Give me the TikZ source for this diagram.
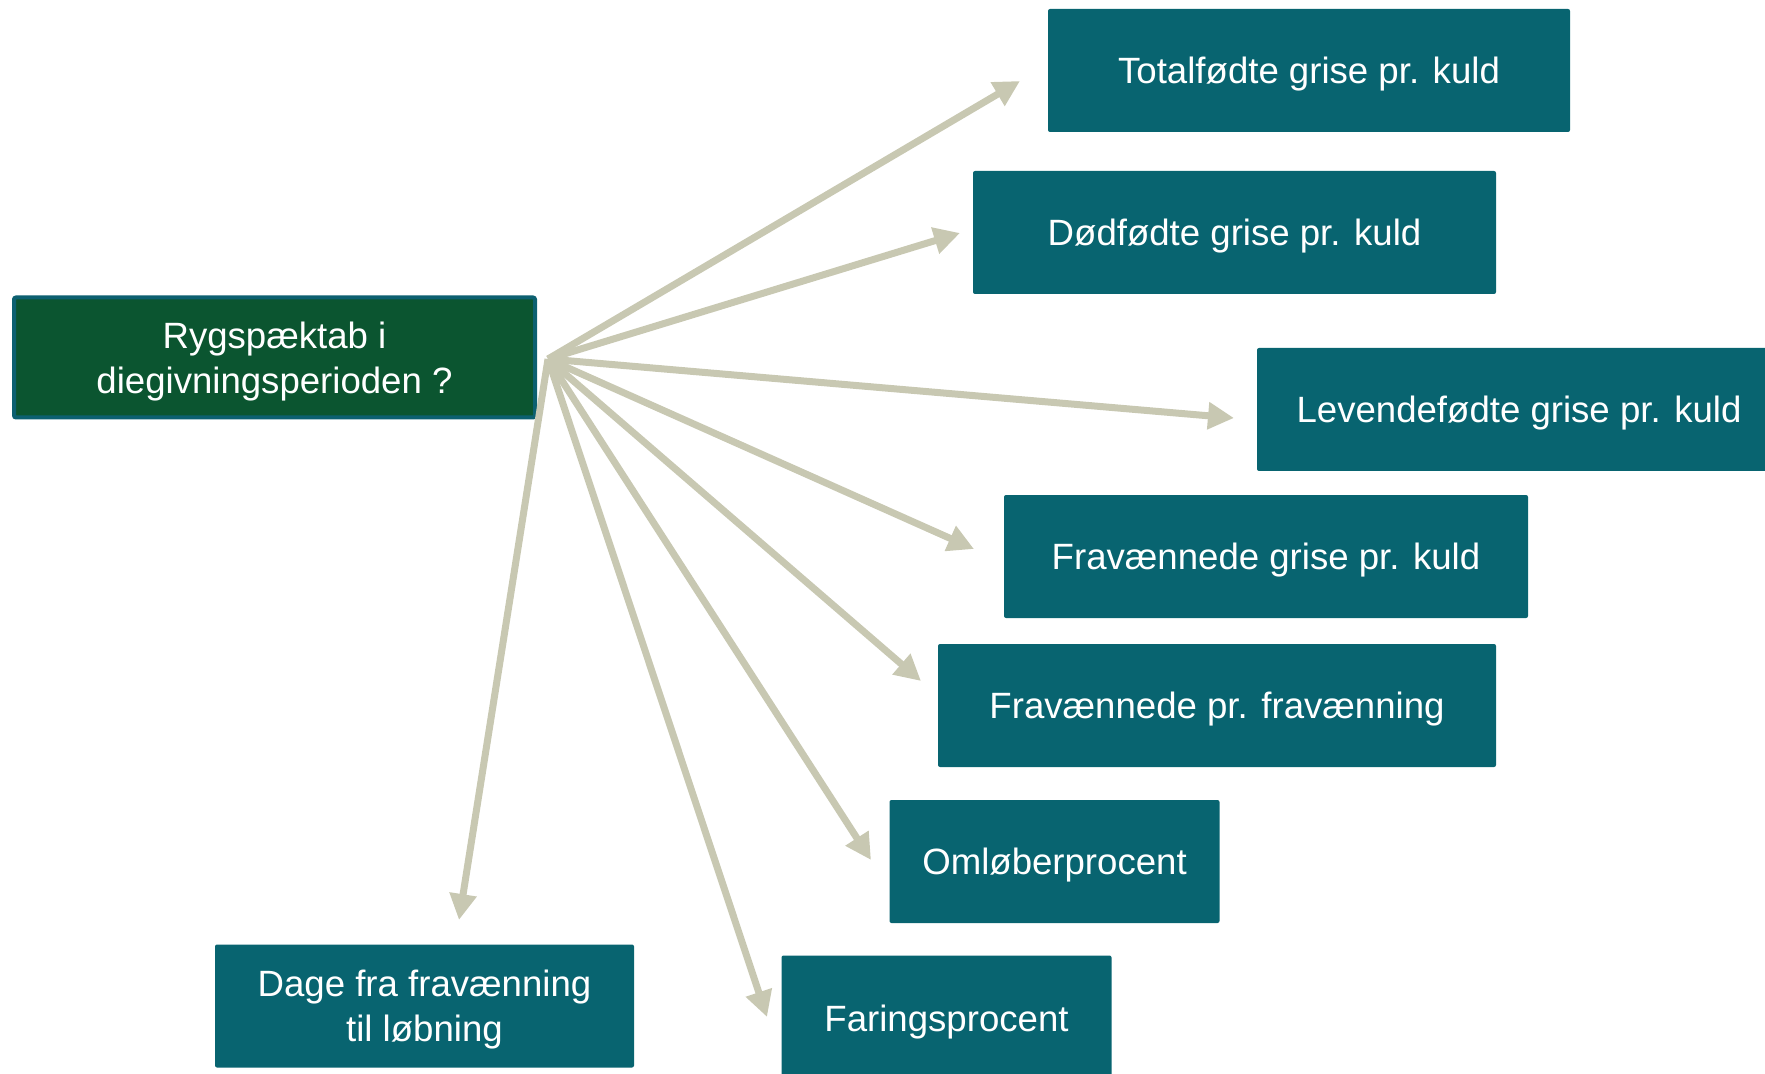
\documentclass[tikz,border=0pt]{standalone}
\usepackage{fontspec}
\setmainfont{Liberation Sans}
\usetikzlibrary{arrows.meta}
\definecolor{tealbox}{RGB}{8,100,112}
\definecolor{greenbox}{RGB}{11,85,48}
\definecolor{greenborder}{RGB}{12,96,112}
\definecolor{arrowcol}{RGB}{200,200,178}
\tikzset{
  box/.style={fill=tealbox, draw=none, rounded corners=1pt, inner sep=0pt,
    text=white, align=center, text depth=-0.66pt, font=\fontsize{18.3pt}{22.5pt}\selectfont},
  mainbox/.style={box, fill=greenbox, draw=greenborder, line width=2pt},
  conn/.style={draw=arrowcol, line width=3.5pt, -{Triangle[length=13pt,width=13pt]}}
}
\begin{document}
\begin{tikzpicture}[x=0.5pt,y=-0.5pt]
\useasboundingbox (0,0) rectangle (1765,1074);
\clip (0,0) rectangle (1765,1074);
\node[mainbox, minimum width=521*0.5pt, minimum height=120*0.5pt] (main) at (274.5,357.5) {Rygspæktab i\\diegivningsperioden ?};
\node[box, minimum width=522*0.5pt, minimum height=123*0.5pt] (tot) at (1309,70.5) {Totalfødte grise pr. kuld};
\node[box, minimum width=523*0.5pt, minimum height=123*0.5pt] (dod) at (1234.5,232.5) {Dødfødte grise pr. kuld};
\node[box, minimum width=524*0.5pt, minimum height=123*0.5pt] (lev) at (1519,409.5) {Levendefødte grise pr. kuld};
\node[box, minimum width=524*0.5pt, minimum height=123*0.5pt] (fg) at (1266,556.5) {Fravænnede grise pr. kuld};
\node[box, minimum width=558*0.5pt, minimum height=123*0.5pt] (fp) at (1217,705.5) {Fravænnede pr. fravænning};
\node[box, minimum width=330*0.5pt, minimum height=123*0.5pt] (oml) at (1054.5,861.5) {Omløberprocent};
\node[box, minimum width=330*0.5pt, minimum height=125*0.5pt] (far) at (946.5,1018) {Faringsprocent};
\node[box, minimum width=419*0.5pt, minimum height=123*0.5pt] (dage) at (424.5,1006) {Dage fra fravænning\\til løbning};
\coordinate (o) at (548,359);
\coordinate (ttot) at (1020,81);
\coordinate (tdod) at (960,233);
\coordinate (tlev) at (1234,418);
\coordinate (tfg) at (974,549);
\coordinate (tfp) at (921,681);
\coordinate (toml) at (871,860);
\coordinate (tfar) at (767,1017);
\coordinate (tdage) at (459,920);
\foreach \t in {ttot,tdod,tlev,tfg,tfp,toml,tfar,tdage}{
  \draw[conn] (o) -- (\t);
}
\end{tikzpicture}
\end{document}
